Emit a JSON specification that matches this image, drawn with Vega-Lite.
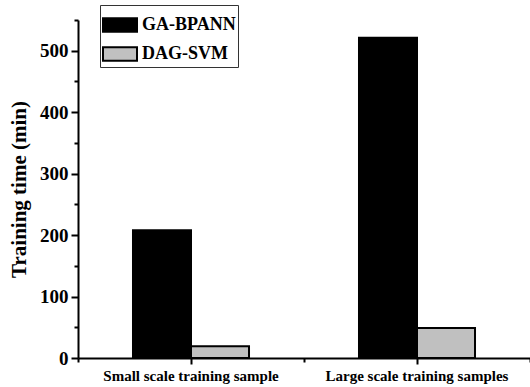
{
  "$schema": "https://vega.github.io/schema/vega-lite/v6.json",
  "width": 452,
  "height": 338,
  "autosize": {"type": "none"},
  "padding": {"left": 78, "top": 20, "right": 0, "bottom": 29},
  "background": "white",
  "config": {"view": {"stroke": null}, "font": "Liberation Serif"},
  "data": {
    "values": [
      {"category": "Small scale training sample", "method": "GA-BPANN", "time": 208},
      {"category": "Small scale training sample", "method": "DAG-SVM", "time": 19},
      {"category": "Large scale training samples", "method": "GA-BPANN", "time": 521},
      {"category": "Large scale training samples", "method": "DAG-SVM", "time": 49}
    ]
  },
  "layer": [
    {
      "mark": {"type": "bar", "stroke": "black", "strokeWidth": 2},
      "encoding": {
        "x": {
          "field": "category",
          "type": "nominal",
          "sort": ["Small scale training sample", "Large scale training samples"],
          "scale": {"paddingInner": 0, "paddingOuter": 0},
          "axis": {
            "orient": "bottom",
            "title": null,
            "labelAngle": 0,
            "labelFont": "Liberation Serif",
            "labelFontWeight": "bold",
            "labelFontSize": 15,
            "labelColor": "black",
            "labelPadding": 4,
            "labelLimit": 400,
            "tickColor": "black",
            "tickWidth": 2,
            "tickSize": 6,
            "domainColor": "black",
            "domainWidth": 2
          }
        },
        "xOffset": {
          "field": "method",
          "sort": ["GA-BPANN", "DAG-SVM"],
          "scale": {"paddingInner": 0, "paddingOuter": 0.948}
        },
        "y": {
          "field": "time",
          "type": "quantitative",
          "scale": {"domain": [0, 550], "nice": false},
          "axis": {
            "values": [0, 50, 100, 150, 200, 250, 300, 350, 400, 450, 500, 550],
            "labelExpr": "datum.value % 100 === 0 ? datum.label : ''",
            "tickSize": {"condition": {"test": "datum.value % 100 === 0", "value": 7}, "value": 4},
            "grid": false,
            "domainColor": "black",
            "domainWidth": 2,
            "tickColor": "black",
            "tickWidth": 2,
            "labelFont": "Liberation Serif",
            "labelFontWeight": "bold",
            "labelFontSize": 19,
            "labelColor": "black",
            "labelPadding": 3,
            "title": "Training time (min)",
            "titleFont": "Liberation Serif",
            "titleFontSize": 21,
            "titleFontWeight": "bold",
            "titleColor": "black",
            "titlePadding": 10
          }
        },
        "fill": {
          "field": "method",
          "type": "nominal",
          "scale": {"domain": ["GA-BPANN", "DAG-SVM"], "range": ["#000000", "#c0c0c0"]},
          "legend": {
            "title": null,
            "orient": "none",
            "legendX": 22,
            "legendY": -15,
            "strokeColor": "#333333",
            "padding": 2,
            "symbolType": "M-1,-0.4H1V0.4H-1Z",
            "symbolSize": 1156,
            "symbolStrokeColor": "black",
            "symbolStrokeWidth": 2,
            "symbolOpacity": 1,
            "labelFont": "Liberation Serif",
            "labelFontWeight": "bold",
            "labelFontSize": 18,
            "labelColor": "black",
            "labelOffset": 4,
            "rowPadding": -2
          }
        }
      }
    },
    {
      "mark": {"type": "bar", "opacity": 0},
      "encoding": {
        "x": {
          "field": "category",
          "type": "nominal",
          "sort": ["Small scale training sample", "Large scale training samples"],
          "axis": {
            "orient": "bottom",
            "title": null,
            "labels": false,
            "domain": false,
            "tickBand": "extent",
            "tickSize": 4,
            "tickWidth": 2,
            "tickColor": "black"
          }
        },
        "xOffset": {"field": "method", "sort": ["GA-BPANN", "DAG-SVM"]}
      }
    }
  ],
  "resolve": {"axis": {"x": "independent"}}
}
